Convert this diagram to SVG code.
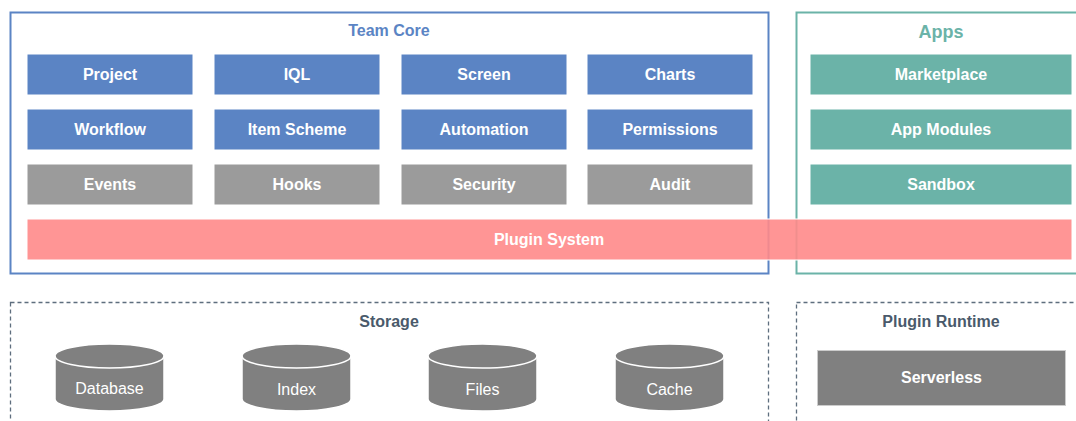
<svg xmlns="http://www.w3.org/2000/svg" width="1076" height="421" viewBox="0 0 1076 421">
<style>
text{font-family:"Liberation Sans",Arial,sans-serif;text-anchor:middle;dominant-baseline:central}
.lbl{fill:#fff;font-size:16px;font-weight:bold}
.blue{fill:#5B84C4;stroke:#fff;stroke-width:1}
.gray{fill:#9B9B9B;stroke:#fff;stroke-width:1}
.teal{fill:#6BB3A8;stroke:#fff;stroke-width:1}
.dash{fill:none;stroke:#5E6E7E;stroke-width:1.3;stroke-dasharray:4 3}
.cyl{fill:#808080;stroke:#fff;stroke-width:1.5}
.clbl{fill:#fff;font-size:16px}
.ttl{font-size:16px;font-weight:bold}
</style>
<rect x="0" y="0" width="1076" height="421" fill="#fff"/>
<g id="team-core">
<rect x="10.5" y="12.5" width="758" height="261" fill="none" stroke="#5B84C4" stroke-width="2"/>
<text class="ttl" x="389" y="30" fill="#5B84C4">Team Core</text>
</g>
<g id="apps">
<rect x="796.5" y="12.5" width="290" height="261" fill="none" stroke="#6BB3A8" stroke-width="2"/>
<text class="ttl" x="941" y="32" fill="#6BB3A8" style="font-size:18px">Apps</text>
</g>
<g id="project"><rect class="blue" x="27" y="54" width="166" height="41"/><text class="lbl" x="110" y="74.5">Project</text></g>
<g id="iql"><rect class="blue" x="214" y="54" width="166" height="41"/><text class="lbl" x="297" y="74.5">IQL</text></g>
<g id="screen"><rect class="blue" x="401" y="54" width="166" height="41"/><text class="lbl" x="484" y="74.5">Screen</text></g>
<g id="charts"><rect class="blue" x="587" y="54" width="166" height="41"/><text class="lbl" x="670" y="74.5">Charts</text></g>
<g id="workflow"><rect class="blue" x="27" y="109" width="166" height="41"/><text class="lbl" x="110" y="129.5">Workflow</text></g>
<g id="item-scheme"><rect class="blue" x="214" y="109" width="166" height="41"/><text class="lbl" x="297" y="129.5">Item Scheme</text></g>
<g id="automation"><rect class="blue" x="401" y="109" width="166" height="41"/><text class="lbl" x="484" y="129.5">Automation</text></g>
<g id="permissions"><rect class="blue" x="587" y="109" width="166" height="41"/><text class="lbl" x="670" y="129.5">Permissions</text></g>
<g id="events"><rect class="gray" x="27" y="164" width="166" height="41"/><text class="lbl" x="110" y="184.5">Events</text></g>
<g id="hooks"><rect class="gray" x="214" y="164" width="166" height="41"/><text class="lbl" x="297" y="184.5">Hooks</text></g>
<g id="security"><rect class="gray" x="401" y="164" width="166" height="41"/><text class="lbl" x="484" y="184.5">Security</text></g>
<g id="audit"><rect class="gray" x="587" y="164" width="166" height="41"/><text class="lbl" x="670" y="184.5">Audit</text></g>
<g id="marketplace"><rect class="teal" x="810" y="54" width="262" height="41"/><text class="lbl" x="941" y="74.5">Marketplace</text></g>
<g id="app-modules"><rect class="teal" x="810" y="109" width="262" height="41"/><text class="lbl" x="941" y="129.5">App Modules</text></g>
<g id="sandbox"><rect class="teal" x="810" y="164" width="262" height="41"/><text class="lbl" x="941" y="184.5">Sandbox</text></g>
<g id="plugin-system"><rect x="27" y="219" width="1045" height="41" fill="#FF8A8A" fill-opacity="0.9" stroke="#fff" stroke-width="1"/><text class="lbl" x="549" y="239.5">Plugin System</text></g>
<g id="storage">
<rect class="dash" x="10.5" y="302.5" width="758" height="140"/>
<text class="ttl" x="389" y="321" fill="#4A5A6B">Storage</text>
</g>
<g id="plugin-runtime">
<rect class="dash" x="796.5" y="302.5" width="290" height="140"/>
<text class="ttl" x="941" y="321" fill="#4A5A6B">Plugin Runtime</text>
</g>
<g id="database"><path class="cyl" d="M55,356 A54.5,12 0 0 1 164,356 L164,399 A54.5,12 0 0 1 55,399 Z"/><path d="M55,356 A54.5,12 0 0 0 164,356" fill="none" stroke="#fff" stroke-width="1.5"/><text class="clbl" x="109.5" y="388">Database</text></g>
<g id="index"><path class="cyl" d="M242,356 A54.5,12 0 0 1 351,356 L351,399 A54.5,12 0 0 1 242,399 Z"/><path d="M242,356 A54.5,12 0 0 0 351,356" fill="none" stroke="#fff" stroke-width="1.5"/><text class="clbl" x="296.5" y="389">Index</text></g>
<g id="files"><path class="cyl" d="M428,356 A54.5,12 0 0 1 537,356 L537,399 A54.5,12 0 0 1 428,399 Z"/><path d="M428,356 A54.5,12 0 0 0 537,356" fill="none" stroke="#fff" stroke-width="1.5"/><text class="clbl" x="482.5" y="389">Files</text></g>
<g id="cache"><path class="cyl" d="M615,356 A54.5,12 0 0 1 724,356 L724,399 A54.5,12 0 0 1 615,399 Z"/><path d="M615,356 A54.5,12 0 0 0 724,356" fill="none" stroke="#fff" stroke-width="1.5"/><text class="clbl" x="669.5" y="389">Cache</text></g>
<g id="serverless"><rect x="817.5" y="350.5" width="248" height="55" fill="#808080" stroke="#ccc" stroke-width="1"/><text class="lbl" x="941.5" y="377.5">Serverless</text></g>
<g id="connectors"></g>
</svg>
